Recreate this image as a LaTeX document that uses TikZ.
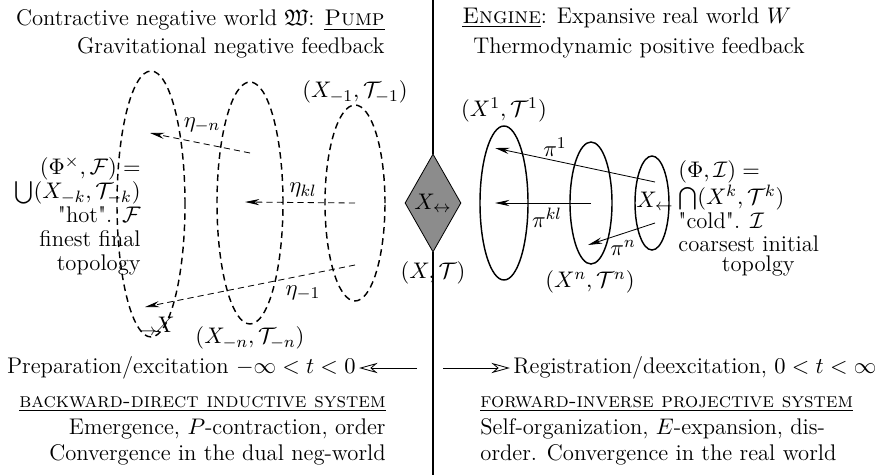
\documentclass[tikz,border=0pt]{standalone}
\usepackage{amssymb}
\usepackage{tikz}
\usetikzlibrary{positioning,calc,shapes.geometric,arrows.meta}
\definecolor{limitgray}{gray}{0.55}
\newcommand{\pxu}{0.01708cm}
\newcommand{\sysname}[1]{{\fontsize{10.1}{13}\selectfont\underline{\textsc{#1}}}}

\begin{document}
\begin{tikzpicture}[
    x=0.01708cm, y=-0.01708cm,
    font=\fontsize{11}{13.6}\selectfont,
    every node/.style={inner sep=0pt},
    negset/.style={draw, ellipse, dash pattern=on 3.2pt off 2.2pt, line width=0.7pt},
    posset/.style={draw, ellipse, line width=0.7pt},
    limitset/.style={diamond, draw, fill=limitgray, minimum width=50*\pxu, minimum height=98*\pxu},
    eta/.style={-{Stealth[length=7pt,width=3pt]}, dash pattern=on 3pt off 2pt, thin},
    proj/.style={-{Stealth[length=7pt,width=3pt]}, thin},
    timearrow/.style={-{Stealth[open,length=9pt,width=5pt]}, thin, shorten >=1.5pt}
  ]
    \useasboundingbox (0,0) rectangle (878,475);

    % dividing line and the common limit
    \coordinate (top) at (433,0);
    \coordinate (bottom) at (433,475);
    \node[limitset] (limit) at (433,203) {$X_{\leftrightarrow}$};
    \draw[line width=0.6pt] (top) -- (limit.north);
    \draw[line width=0.6pt] (limit.south) -- (bottom);
    \node (limitlab) at (433,273) {$(X,\mathcal{T})$};

    % titles
    \node[anchor=east, align=right] (pump) at (385,34) {Contractive negative world $\mathfrak{W}$: \underline{\textsc{Pump}}\\Gravitational negative feedback};
    \node[anchor=west] (engine) at (462,18) {\underline{\textsc{Engine}}: Expansive real world $W$};
    \node[anchor=west] (thermo) at (473,48) {Thermodynamic positive feedback};

    % negative world: dashed sets
    \node[negset, minimum width=68*\pxu, minimum height=266*\pxu] (negK) at (151,204) {};
    \node[negset, minimum width=66*\pxu, minimum height=242*\pxu] (negN) at (250,203) {};
    \node[negset, minimum width=60*\pxu, minimum height=196*\pxu] (negOne) at (355,203) {};
    \node (negOnelab) at (355,92) {$(X_{-1},\mathcal{T}_{-1})$};
    \node (negNlab) at (250,338) {$(X_{-n},\mathcal{T}_{-n})$};
    \node (negX) at (157,326) {${}_{\rightarrow}\!X$};
    \node[anchor=east, align=right, font=\fontsize{11}{11.6}\selectfont] (hot) at (141,216)
      {$(\Phi^{\times},\mathcal{F})=$\\$\bigcup(X_{-k},\mathcal{T}_{-k})$\\\textquotedbl hot\textquotedbl. $\mathcal{F}$\\finest final\\topology};

    \coordinate (etaNfrom) at (250,153);
    \coordinate (etaNto) at (150,133);
    \coordinate (etaKLto) at (245,202);
    \coordinate (etaOnefrom) at (355,265);
    \coordinate (etaOneto) at (145,307);
    \draw[eta] (etaNfrom) -- (etaNto);
    \draw[eta] (negOne.center) -- (etaKLto);
    \draw[eta] (etaOnefrom) -- (etaOneto);
    \node (etaN) at (202,125) {$\eta_{-n}$};
    \node (etaKL) at (303,190) {$\eta_{kl}$};
    \node (etaOne) at (303,293) {$\eta_{-1}$};

    % real world: solid sets
    \node[posset, minimum width=48*\pxu, minimum height=154*\pxu] (posOne) at (504,203) {};
    \node[posset, minimum width=42*\pxu, minimum height=122*\pxu] (posN) at (591,203) {};
    \node[posset, minimum width=34*\pxu, minimum height=94*\pxu] (posK) at (652,203) {};
    \node (posOnelab) at (504,110) {$(X^{1},\mathcal{T}^{1})$};
    \node (posNlab) at (590,282) {$(X^{n},\mathcal{T}^{n})$};
    \node (posX) at (655,201) {$X_{\leftarrow}$};
    \node[anchor=west, align=left, font=\fontsize{11}{11.4}\selectfont] (cold) at (678,206)
      {$(\Phi,\mathcal{I})=$\\$\bigcap(X^{k},\mathcal{T}^{k})$\\\textquotedbl cold\textquotedbl. $\mathcal{I}$\\coarsest initial};
    \node[anchor=east] (topolgy) at (795,266) {topolgy};

    \coordinate (piOnefrom) at (655,182);
    \coordinate (piOneto) at (495,148);
    \coordinate (piKLto) at (495,203);
    \coordinate (piNfrom) at (655,223);
    \coordinate (piNto) at (588,245);
    \draw[proj] (piOnefrom) -- (piOneto);
    \draw[proj] (posN.center) -- (piKLto);
    \draw[proj] (piNfrom) -- (piNto);
    \node (piOne) at (555,147) {$\pi^{1}$};
    \node (piKL) at (547,218) {$\pi^{kl}$};
    \node (piN) at (623,248) {$\pi^{n}$};

    % time directions
    \node[anchor=east] (prep) at (356,368) {Preparation/excitation $-\infty<t<0$};
    \node[anchor=west] (reg) at (513,368) {Registration/deexcitation, $0<t<\infty$};
    \coordinate (prepfrom) at (417,368);
    \coordinate (regfrom) at (443,368);
    \draw[timearrow] (prepfrom) -- (prep.east);
    \draw[timearrow] (regfrom) -- (reg.west);

    % systems
    \node[anchor=east, align=right, font=\fontsize{11}{13}\selectfont] (backward) at (386,431)
      {\sysname{backward-direct inductive system}\\Emergence, $P$-contraction, order\\Convergence in the dual neg-world};
    \node[anchor=west, align=left, font=\fontsize{11}{13}\selectfont] (forward) at (480,431)
      {\sysname{forward-inverse projective system}\\Self-organization, $E$-expansion, dis-\\order. Convergence in the real world};
  \end{tikzpicture}
\end{document}
